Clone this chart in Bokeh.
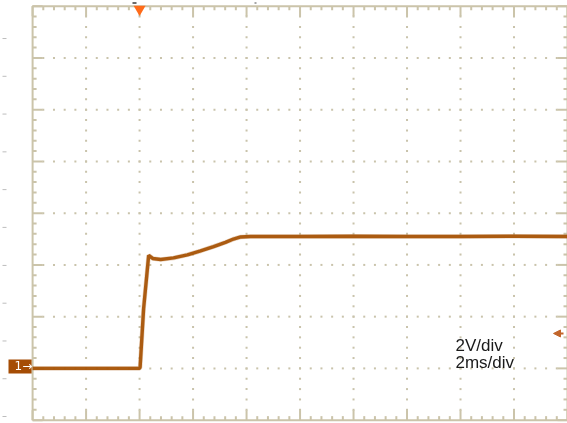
from bokeh.plotting import figure
from bokeh.models import Range1d, Label, Arrow, NormalHead, ColumnDataSource
from bokeh.core.properties import value
from bokeh.embed import file_html
from bokeh.resources import INLINE

# ---- data (read from the scope capture) ----
time_ms = [0.0, 4.00, 4.02, 4.15, 4.34, 4.49, 4.79, 5.27, 5.79, 6.28, 6.77, 7.21,
           7.51, 7.78, 8.15, 10.0, 12.0, 14.0, 16.0, 18.0, 20.0]
volts = [0.0, 0.0, 0.05, 2.30, 4.37, 4.25, 4.21, 4.27, 4.39, 4.54, 4.71, 4.87,
         5.00, 5.08, 5.10, 5.10, 5.11, 5.10, 5.10, 5.11, 5.10]

time_div_ms = 2.0      # 2ms/div
volt_div = 2.0         # 2V/div
n_xdiv = 10
n_ydiv = 8
ground_div = 1         # ground marker one division above bottom
trigger_time = 4.0
trigger_level = 1.35
labels = ["2V/div", "2ms/div"]
channel_label = "1→"
# faint page ruler marks at the left edge (volts at the same height)
ruler_v = [12.75, 11.29, 9.83, 8.37, 6.91, 5.45, 3.98, 2.52, 1.06, -0.40, -1.86]

x0, x1 = 0.0, n_xdiv * time_div_ms
y0, y1 = -ground_div * volt_div, (n_ydiv - ground_div) * volt_div

W, H = 567, 423
xr = Range1d(-1.2, 20.0)
yr = Range1d(-2.13, 14.22)
px_x = W / (xr.end - xr.start)   # pixels per ms
px_y = H / (yr.end - yr.start)   # pixels per volt

frame_c = "#cbc4aa"
dot_c = "#c9c3ab"
trace_c = "#a85407"

p = figure(width=W, height=H, x_range=xr, y_range=yr,
           output_backend="svg", toolbar_location=None,
           x_axis_type=None, y_axis_type=None,
           min_border=0, background_fill_color="white", border_fill_color="white")
p.outline_line_color = None
p.grid.visible = False
p.styles = {"position": "fixed", "left": "0px", "top": "0px"}

xmaj = [x0 + i * time_div_ms for i in range(n_xdiv + 1)]
xmin = [x0 + i * time_div_ms / 5 for i in range(n_xdiv * 5 + 1)]
ymaj = [y0 + i * volt_div for i in range(n_ydiv + 1)]
ymin = [y0 + i * volt_div / 5 for i in range(n_ydiv * 5 + 1)]

# dotted graticule
dx, dy = [], []
for xv in xmaj[1:-1]:
    for yv in ymin[1:-1]:
        dx.append(xv); dy.append(yv)
for yv in ymaj[1:-1]:
    for xv in xmin[1:-1]:
        dx.append(xv); dy.append(yv)
p.scatter(dx, dy, marker="square", size=2, color=dot_c, line_color=None)

# frame with inward ticks
sx0, sy0, sx1, sy1 = [], [], [], []
majx = set(xmaj)
for xv in xmin:
    L = (10 if xv in majx else 4) / px_y
    sx0 += [xv, xv]; sx1 += [xv, xv]
    sy0 += [y1, y0]; sy1 += [y1 - L, y0 + L]
majy = set(ymaj)
for yv in ymin:
    L = (10 if yv in majy else 4) / px_x
    sy0 += [yv, yv]; sy1 += [yv, yv]
    sx0 += [x0, x1]; sx1 += [x0 + L, x1 - L]
p.segment(sx0, sy0, sx1, sy1, line_color=frame_c, line_width=2)
p.multi_line([[x0, x1, x1, x0, x0]], [[y0, y0, y1, y1, y0]], line_color=frame_c, line_width=2)

# page ruler marks left of the screen
rl = [xr.start + 2 / px_x] * len(ruler_v)
rr = [xr.start + 6 / px_x] * len(ruler_v)
p.segment(rl, ruler_v, rr, ruler_v, line_color="#bdbdbd", line_width=1)

# tiny marks above the screen
p.segment([xr.start + 132 / px_x, xr.start + 254 / px_x], [yr.end - 2.5 / px_y] * 2,
          [xr.start + 136 / px_x, xr.start + 256 / px_x], [yr.end - 2.5 / px_y] * 2,
          line_color=["#3a3a3a", "#8a8a8a"], line_width=1.5)

# trace (soft halo + core, like the noisy capture)
src = ColumnDataSource(dict(t=time_ms, v=volts))
p.line("t", "v", source=src, line_color=trace_c, line_width=4.6, line_alpha=0.25)
p.line("t", "v", source=src, line_color=trace_c, line_width=3.4, line_alpha=0.95)

# trigger position marker (top)
p.scatter([trigger_time], [y1 - 3 / px_y], marker="inverted_triangle", size=12,
          color="#ff6b1a", line_color=None)

# trigger level arrow (right)
p.add_layout(Arrow(x_start=x1 - 4 / px_x, y_start=trigger_level,
                   x_end=x1 - 14 / px_x, y_end=trigger_level,
                   line_color="#c2652a", line_width=2,
                   end=NormalHead(size=7, fill_color="#c2652a", line_color="#c2652a")))

# channel 1 ground marker
p.quad(left=[xr.start + 8 / px_x], right=[x0 - 1 / px_x],
       bottom=[0 - 5 / px_y], top=[0 + 9 / px_y],
       fill_color="#a54c04", line_color=None)
p.text([xr.start + 14 / px_x], [0 + 2 / px_y], text=[channel_label], text_color="white",
       text_font=value("DejaVu Sans"), text_font_size="12px", text_baseline="middle")

# scale text
p.add_layout(Label(x=15.81, y=0.657 + 5.5 / px_y, text=labels[0], text_font="Liberation Sans",
                   text_font_size="17px", text_color="#1a1a1a", text_baseline="alphabetic"))
p.add_layout(Label(x=15.81, y=0.0 + 5.5 / px_y, text=labels[1], text_font="Liberation Sans",
                   text_font_size="17px", text_color="#1a1a1a", text_baseline="alphabetic"))

open("out.html", "w").write(file_html(p, INLINE))
